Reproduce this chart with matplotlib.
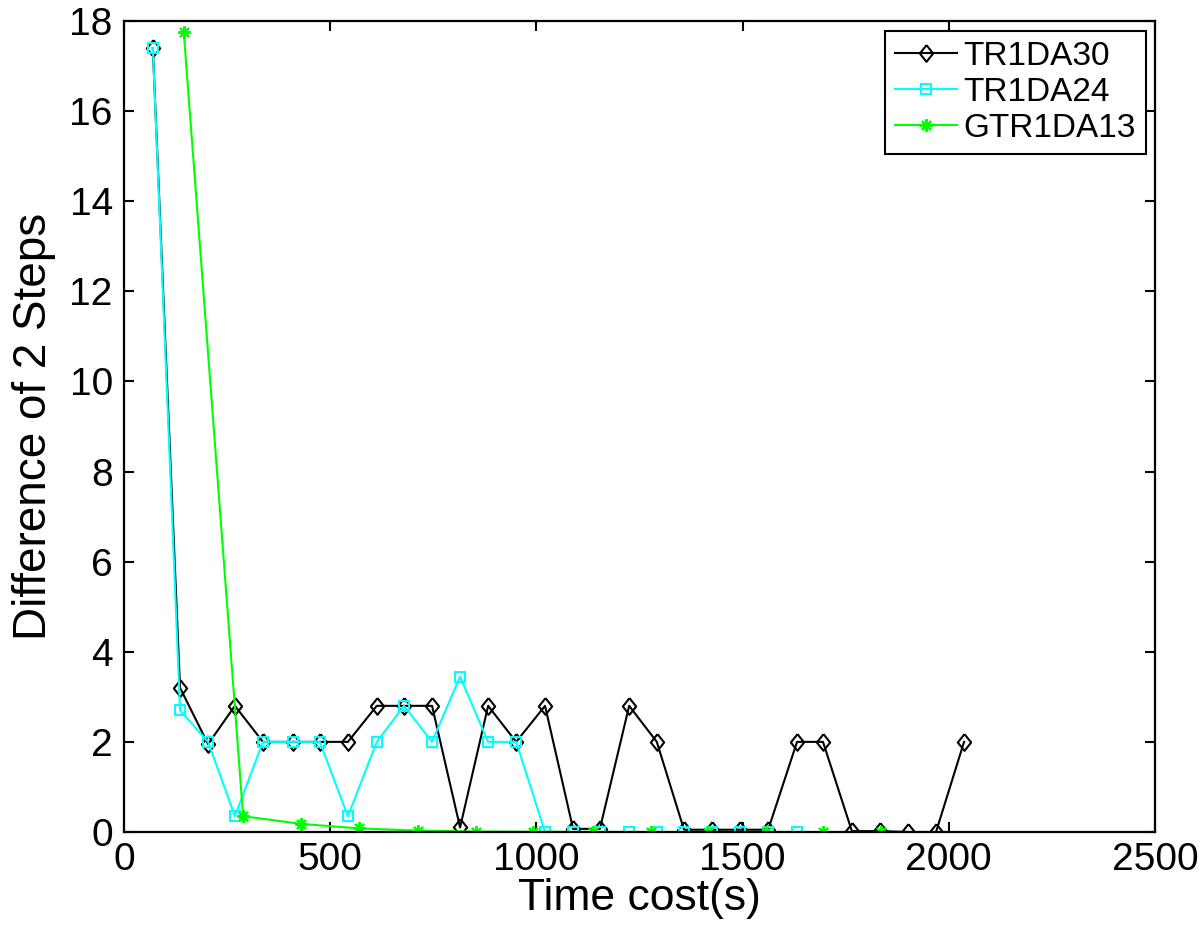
import matplotlib

matplotlib.use("Agg")

import matplotlib.pyplot as plt

# TR1DA30 (black diamonds)
tr30_time = [70, 136, 204, 269, 337, 410, 475, 543, 613, 679, 747, 815, 883, 951,
             1021, 1089, 1154, 1225, 1292, 1358, 1426, 1494, 1562, 1632, 1695,
             1765, 1833, 1901, 1969, 2037]
tr30_diff = [17.4, 3.2, 1.95, 2.8, 2.0, 2.0, 2.0, 2.0, 2.8, 2.8, 2.8, 0.1, 2.8, 2.0,
             2.8, 0.07, 0.07, 2.8, 2.0, 0.05, 0.05, 0.05, 0.05, 2.0, 2.0,
             0.02, 0.02, 0.0, 0.0, 2.0]

# TR1DA24 (cyan squares)
tr24_time = [70, 136, 204, 269, 337, 410, 475, 543, 613, 679, 747, 815, 883, 951,
             1021, 1089, 1154, 1225, 1292, 1358, 1426, 1494, 1562, 1632]
tr24_diff = [17.4, 2.7, 2.0, 0.35, 2.0, 2.0, 2.0, 0.35, 2.0, 2.8, 2.0, 3.45, 2.0, 2.0,
             0.0, 0.0, 0.0, 0.0, 0.0, 0.0, 0.0, 0.0, 0.0, 0.0]

# GTR1DA13 (green asterisks)
gtr13_time = [145, 289, 429, 570, 713, 854, 992, 1137, 1278, 1416, 1557, 1695, 1836]
gtr13_diff = [17.75, 0.35, 0.18, 0.08, 0.03, 0.01, 0.005, 0.0, 0.0, 0.0, 0.0, 0.0, 0.0]

x_ticks = [0, 500, 1000, 1500, 2000, 2500]
y_ticks = [0, 2, 4, 6, 8, 10, 12, 14, 16, 18]

plt.rcParams["font.family"] = ["Liberation Sans", "DejaVu Sans"]

diamond = [(0, 1), (0.8, 0), (0, -1), (-0.8, 0), (0, 1)]

fig = plt.figure(figsize=(12, 9.4), dpi=100)
ax = fig.add_axes([0.1033, 0.1149, 0.8592, 0.8628])

ax.plot(tr30_time, tr30_diff, color="black", lw=1.5, marker=diamond,
        markersize=12, markerfacecolor="none", markeredgecolor="black",
        markeredgewidth=1.5, label="TR1DA30")
ax.plot(tr24_time, tr24_diff, color="cyan", lw=1.5, marker="s",
        markersize=7, markerfacecolor="none", markeredgecolor="cyan",
        markeredgewidth=1.5, label="TR1DA24")
ax.plot(gtr13_time, gtr13_diff, color="#00ff00", lw=1.5, marker=(8, 2, 0),
        markersize=9, markeredgecolor="#00ff00", markeredgewidth=1.5,
        label="GTR1DA13")

ax.set_xlim(0, 2500)
ax.set_ylim(0, 18)
ax.set_xticks(x_ticks)
ax.set_yticks(y_ticks)
ax.tick_params(direction="in", length=7, width=1.5, top=True, right=True,
               labelsize=28)
ax.tick_params(axis="x", pad=7)
ax.tick_params(axis="y", pad=8)
for s in ax.spines.values():
    s.set_linewidth(1.6)

ax.set_xlabel("Time cost(s)", fontsize=32, labelpad=0)
ax.set_ylabel("Difference of 2 Steps", fontsize=33, labelpad=10)

leg = ax.legend(loc="upper right", bbox_to_anchor=(1 - 9 / 1031, 1 - 10 / 811),
                borderaxespad=0, fontsize=24, fancybox=False, framealpha=1,
                edgecolor="black", handlelength=1.85, handletextpad=0.2,
                borderpad=0.3, labelspacing=0.15)
leg.get_frame().set_linewidth(1.5)

fig.savefig("out.png", dpi=100)
plt.close(fig)
